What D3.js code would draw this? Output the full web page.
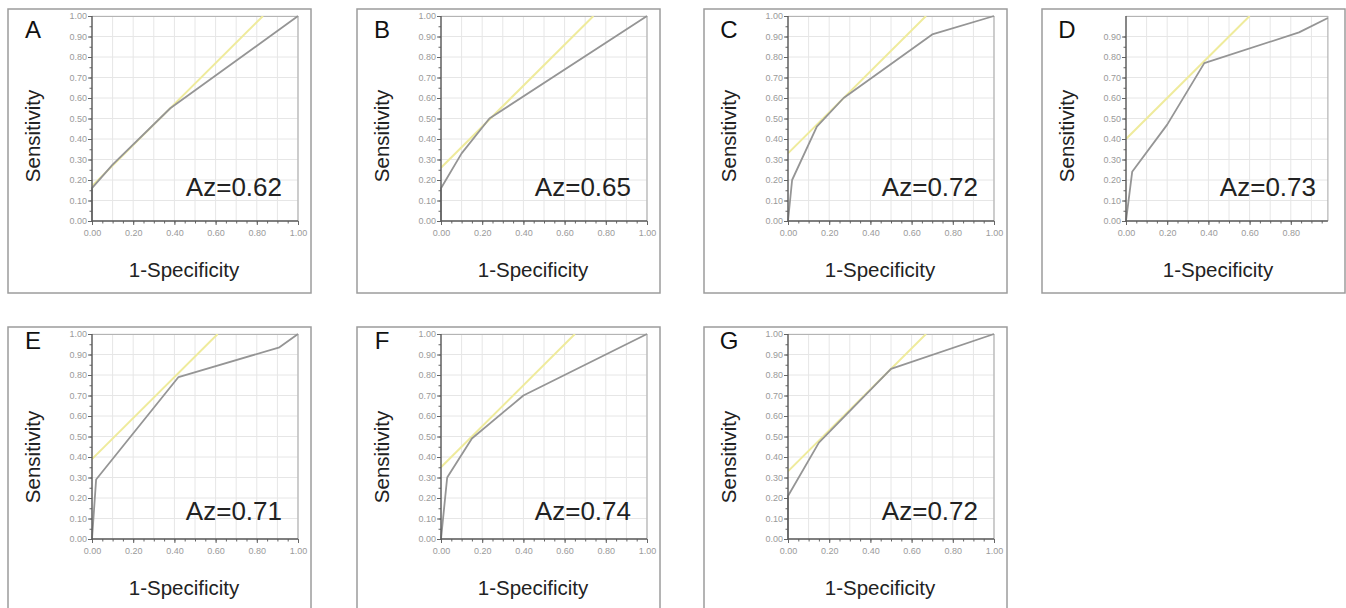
<!DOCTYPE html>
<html>
  <head>
    <meta charset="utf-8">
    <script src="https://cdn.jsdelivr.net/npm/d3@7"></script>
    <style type="text/css">
      body {
        margin: 0;
        padding: 0;
        background: #fff;
        font-family: 'Liberation Sans', Arial, sans-serif;
      }
      svg {
        display: block;
      }
      .tick text {
        fill: #9a9a9a;
        font-size: 9px;
      }
    </style>
  </head>
  <body>
    <svg id="chart" width="1346" height="608"></svg>

    <script>
      /* Data */
      const panelLabels = ["A", "B", "C", "D", "E", "F", "G"]
      const azValues = [0.62, 0.65, 0.72, 0.73, 0.71, 0.74, 0.72]
      // ROC curve points, 1-specificity (x) and sensitivity (y)
      const rocFpr = [
        [0, 0, 0.10, 0.38, 1],
        [0, 0, 0.10, 0.235, 1],
        [0, 0.02, 0.14, 0.27, 0.70, 1],
        [0, 0.03, 0.20, 0.38, 0.84, 0.98],
        [0, 0.02, 0.42, 0.91, 1],
        [0, 0.03, 0.15, 0.40, 1],
        [0, 0, 0.15, 0.50, 1]
      ]
      const rocTpr = [
        [0, 0.16, 0.275, 0.55, 1],
        [0, 0.16, 0.33, 0.50, 1],
        [0, 0.20, 0.46, 0.60, 0.91, 1],
        [0, 0.24, 0.47, 0.77, 0.92, 0.99],
        [0, 0.29, 0.79, 0.935, 1],
        [0, 0.30, 0.49, 0.70, 1],
        [0, 0.21, 0.47, 0.83, 1]
      ]
      // yellow 45 degree line, sensitivity at x = 0
      const tangentIntercepts = [0.17, 0.26, 0.33, 0.40, 0.39, 0.35, 0.33]
      const xMaxValues = [1, 1, 1, 0.98, 1, 1, 1]
      const xTickLabels = [[0, 0.2, 0.4, 0.6, 0.8, 1], [0, 0.2, 0.4, 0.6, 0.8, 1], [0, 0.2, 0.4, 0.6, 0.8, 1],
        [0, 0.2, 0.4, 0.6, 0.8], [0, 0.2, 0.4, 0.6, 0.8, 1], [0, 0.2, 0.4, 0.6, 0.8, 1], [0, 0.2, 0.4, 0.6, 0.8, 1]]
      const yMaxLabel = [1, 1, 1, 0.9, 1, 1, 1]

      /* Layout */
      const colX = [8, 357, 704, 1042]
      const rowY = [9, 327]
      const boxW = 303
      const boxH = [284, 300]
      const plotLeft = 84
      const plotTop = 7
      const plotW = 206
      const plotH = 205

      const svg = d3.select("#chart")
      const fmt = d3.format(".2f")

      panelLabels.forEach((label, i) => {
        const row = i < 4 ? 0 : 1
        const col = i < 4 ? i : i - 4
        const bx = colX[col]
        const by = rowY[row]

        const g = svg.append("g").attr("transform", `translate(${bx},${by})`)

        g.append("rect")
          .attr("width", boxW)
          .attr("height", boxH[row])
          .attr("fill", "none")
          .attr("stroke", "#9c9c9c")
          .attr("stroke-width", 1.5)

        const xMax = xMaxValues[i]
        const x = d3.scaleLinear().domain([0, xMax]).range([0, plotW * xMax])
        const y = d3.scaleLinear().domain([0, 1]).range([plotH, 0])
        const w = plotW * xMax

        const p = g.append("g").attr("transform", `translate(${plotLeft},${plotTop})`)

        // grid
        const gridX = d3.range(0, xMax + 0.001, 0.1).map(v => +v.toFixed(2))
        const gridY = d3.range(0, 1.001, 0.1).map(v => +v.toFixed(2))
        p.append("g").selectAll("line").data(gridX).join("line")
          .attr("x1", d => x(d)).attr("x2", d => x(d))
          .attr("y1", 0).attr("y2", plotH)
          .attr("stroke", "#e6e6e6")
        p.append("g").selectAll("line").data(gridY).join("line")
          .attr("x1", 0).attr("x2", w)
          .attr("y1", d => y(d)).attr("y2", d => y(d))
          .attr("stroke", "#e6e6e6")

        // frame top/right
        p.append("path")
          .attr("d", `M0,0.5H${w}V${plotH}`)
          .attr("fill", "none")
          .attr("stroke", "#b4b4b4")
          .attr("stroke-width", 1.2)

        // clip
        const clipId = "clip" + i
        p.append("clipPath").attr("id", clipId)
          .append("rect").attr("width", w).attr("height", plotH)

        // yellow tangent line
        const b = tangentIntercepts[i]
        p.append("line")
          .attr("clip-path", `url(#${clipId})`)
          .attr("x1", x(0)).attr("y1", y(b))
          .attr("x2", x(1 - b)).attr("y2", y(1))
          .attr("stroke", "#efeb9c")
          .attr("stroke-width", 2)

        // ROC curve
        const pts = rocFpr[i].map((v, k) => [v, rocTpr[i][k]])
        p.append("path")
          .datum(pts)
          .attr("d", d3.line().x(d => x(d[0])).y(d => y(d[1])))
          .attr("fill", "none")
          .attr("stroke", "#959595")
          .attr("stroke-width", 1.8)
          .attr("stroke-linejoin", "round")

        // axes, minor ticks every 0.05
        const minorX = d3.range(0, xMax + 0.001, 0.05)
        const minorY = d3.range(0, 1.001, 0.05)
        p.append("g")
          .attr("transform", `translate(0,${plotH})`)
          .call(d3.axisBottom(x).tickValues(minorX).tickSize(2.5).tickFormat(""))
          .call(a => a.select(".domain").remove())
          .call(a => a.selectAll("line").attr("stroke", "#666"))
        p.append("g")
          .call(d3.axisLeft(y).tickValues(minorY.filter(v => v <= yMaxLabel[i] + 0.001)).tickSize(2.5).tickFormat(""))
          .call(a => a.select(".domain").remove())
          .call(a => a.selectAll("line").attr("stroke", "#666"))

        p.append("g")
          .attr("transform", `translate(0,${plotH})`)
          .call(d3.axisBottom(x).tickValues(xTickLabels[i]).tickSize(4).tickPadding(5).tickFormat(fmt))
          .call(a => a.select(".domain").remove())
          .call(a => a.selectAll("line").attr("stroke", "#666"))
          .call(a => a.selectAll("text").attr("font-family", "'Liberation Sans', Arial, sans-serif"))
        p.append("g")
          .call(d3.axisLeft(y).tickValues(gridY.filter(v => v <= yMaxLabel[i] + 0.001)).tickSize(4).tickPadding(1).tickFormat(fmt))
          .call(a => a.select(".domain").remove())
          .call(a => a.selectAll("line").attr("stroke", "#666"))
          .call(a => a.selectAll("text").attr("font-family", "'Liberation Sans', Arial, sans-serif"))

        // axis lines
        p.append("path")
          .attr("d", `M0,0V${plotH}H${w}`)
          .attr("fill", "none")
          .attr("stroke", "#5a5a5a")
          .attr("stroke-width", 1.4)

        // texts
        g.append("text")
          .attr("x", 25)
          .attr("y", row === 0 ? 29 : 22)
          .attr("text-anchor", "middle")
          .attr("font-size", 24)
          .attr("fill", "#111")
          .text(label)

        g.append("text")
          .attr("x", 274)
          .attr("y", row === 0 ? 187 : 193)
          .attr("text-anchor", "end")
          .attr("font-size", 26)
          .attr("fill", "#222")
          .text("Az=" + fmt(azValues[i]))

        g.append("text")
          .attr("x", 176)
          .attr("y", 268)
          .attr("text-anchor", "middle")
          .attr("font-size", 20.5)
          .attr("fill", "#222")
          .text("1-Specificity")

        g.append("text")
          .attr("transform", `translate(32,${row === 0 ? 127 : 130}) rotate(-90)`)
          .attr("text-anchor", "middle")
          .attr("font-size", 20.5)
          .attr("fill", "#222")
          .text("Sensitivity")
      })
    </script>
  </body>
</html>
